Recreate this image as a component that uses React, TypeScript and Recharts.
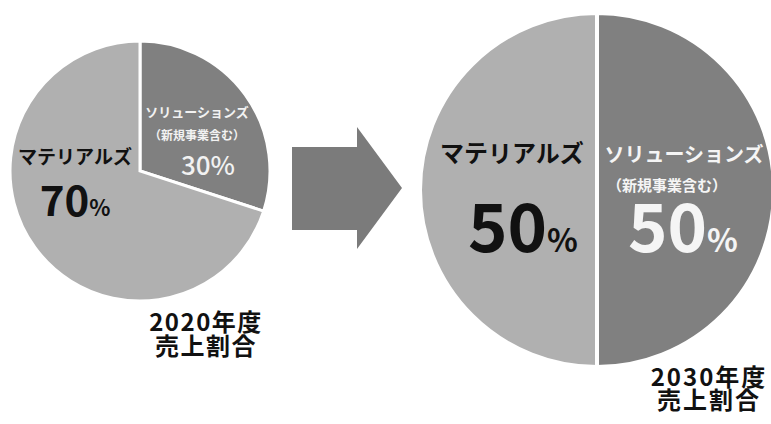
import React from 'react';
import { PieChart, Pie, Cell, Customized } from 'recharts';

const segments2020 = ['ソリューションズ', 'マテリアルズ'];
const values2020 = [30, 70];
const segments2030 = ['ソリューションズ', 'マテリアルズ'];
const values2030 = [50, 50];
const subNote = '（新規事業含む）';
const titles = ['2020年度', '2030年度'];
const titleLine2 = '売上割合';

const COLORS = ['#808080', '#b0b0b0'];
const FONT = '"Noto Sans CJK JP", "Noto Sans", sans-serif';

const data2020 = segments2020.map((name, i) => ({ name, value: values2020[i] }));
const data2030 = segments2030.map((name, i) => ({ name, value: values2030[i] }));

const L = { cx: 140, cy: 171, r: 130 };
const R = { cx: 597, cy: 190, r: 177 };

const label2020 = (p: any) => {
  const cx = Number(p.cx);
  const cy = Number(p.cy);
  if (p.index === 1) {
    return (
      <g key="l1" fontFamily={FONT} fontWeight={700}>
        <text x={cx - 65} y={cy - 7} fontSize={19} textAnchor="middle" fill="#111">{p.name}</text>
        <text x={cx - 65} y={cy + 45} textAnchor="middle" fill="#111">
          <tspan fontSize={42}>{p.value}</tspan>
          <tspan fontSize={22}>%</tspan>
        </text>
      </g>
    );
  }
  return (
    <g key="l0" fontFamily={FONT} fontWeight={700}>
      <text x={cx + 57} y={cy - 54} fontSize={13} textAnchor="middle" fill="#f2f2f2">{p.name}</text>
      <text x={cx + 57} y={cy - 31} fontSize={12} textAnchor="middle" fill="#f2f2f2">{subNote}</text>
      <text x={cx + 68} y={cy + 4} fontSize={26} fontWeight={500} textAnchor="middle" fill="#f2f2f2">{p.value}%</text>
    </g>
  );
};

const label2030 = (p: any) => {
  const cx = Number(p.cx);
  const cy = Number(p.cy);
  if (p.index === 1) {
    return (
      <g key="r1" fontFamily={FONT} fontWeight={700}>
        <text x={cx - 85} y={cy - 28} fontSize={24} textAnchor="middle" fill="#111">{p.name}</text>
        <text x={cx - 74} y={cy + 62} textAnchor="middle" fill="#111">
          <tspan fontSize={67}>{p.value}</tspan>
          <tspan fontSize={32}>%</tspan>
        </text>
      </g>
    );
  }
  return (
    <g key="r0" fontFamily={FONT} fontWeight={700}>
      <text x={cx + 87} y={cy - 28} fontSize={20} textAnchor="middle" fill="#f5f5f5">{p.name}</text>
      <text x={cx + 70} y={cy + 1} fontSize={15} textAnchor="middle" fill="#f5f5f5">{subNote}</text>
      <text x={cx + 86} y={cy + 62} textAnchor="middle" fill="#f5f5f5">
        <tspan fontSize={67}>{p.value}</tspan>
        <tspan fontSize={32}>%</tspan>
      </text>
    </g>
  );
};

const Overlay = () => (
  <g fontFamily={FONT} fontWeight={700}>
    <polygon points="292,147 357,147 357,127 402,188 357,249 357,230 292,230" fill="#7b7b7b" />
    <text x={206} y={331} fontSize={24} letterSpacing={1.5} textAnchor="middle" fill="#111">{titles[0]}</text>
    <text x={206} y={355} fontSize={24} letterSpacing={1.5} textAnchor="middle" fill="#111">{titleLine2}</text>
    <text x={709} y={386} fontSize={24} letterSpacing={2} textAnchor="middle" fill="#111">{titles[1]}</text>
    <text x={709} y={409} fontSize={24} letterSpacing={2} textAnchor="middle" fill="#111">{titleLine2}</text>
  </g>
);

export default function App() {
  return (
    <div style={{ position: 'absolute', left: 0, top: 0, width: 771, height: 424, background: '#fff' }}>
      <PieChart width={771} height={424} margin={{ top: 0, right: 0, bottom: 0, left: 0 }}>
        <Customized component={Overlay} />
        <Pie
          data={data2020}
          dataKey="value"
          nameKey="name"
          cx={L.cx}
          cy={L.cy}
          outerRadius={L.r}
          innerRadius={0}
          startAngle={90}
          endAngle={-270}
          stroke="#ffffff"
          strokeWidth={3}
          label={label2020}
          labelLine={false}
          isAnimationActive={false}
        >
          {data2020.map((d, i) => <Cell key={d.name} fill={COLORS[i]} />)}
        </Pie>
        <Pie
          data={data2030}
          dataKey="value"
          nameKey="name"
          cx={R.cx}
          cy={R.cy}
          outerRadius={R.r}
          innerRadius={0}
          startAngle={90}
          endAngle={-270}
          stroke="#ffffff"
          strokeWidth={4}
          label={label2030}
          labelLine={false}
          isAnimationActive={false}
        >
          {data2030.map((d, i) => <Cell key={d.name} fill={COLORS[i]} />)}
        </Pie>
      </PieChart>
    </div>
  );
}
